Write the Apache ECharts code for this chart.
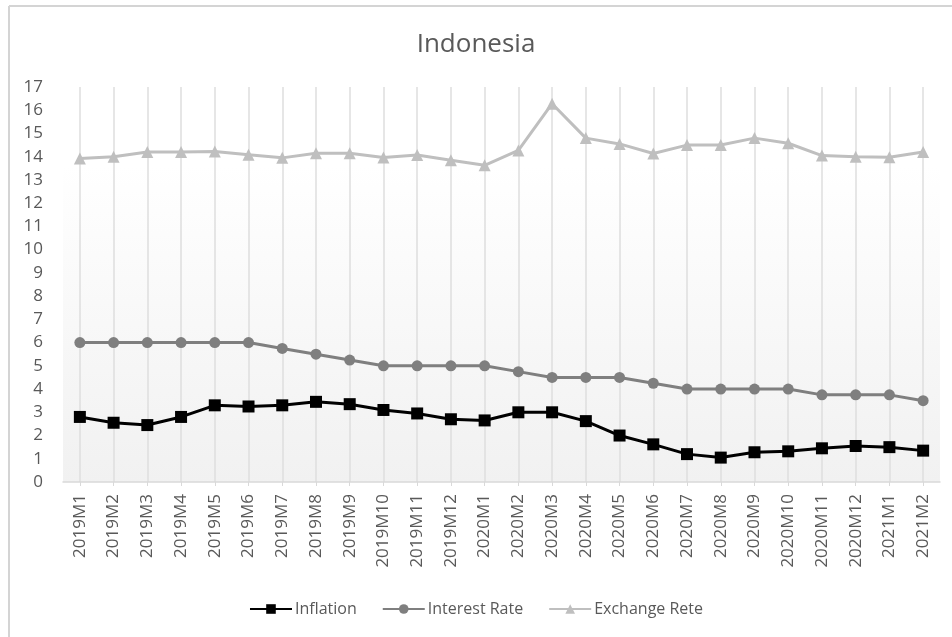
<!DOCTYPE html>
<html>
<head>
<meta charset="utf-8">
<title>Indonesia</title>
<script src="https://cdn.jsdelivr.net/npm/echarts@6/dist/echarts.min.js"></script>
<style>
  html, body { margin: 0; padding: 0; background: #ffffff; }
  #chart { width: 952px; height: 637px; }
</style>
</head>
<body>
<div id="chart"></div>
<script>
// Monthly observations, January 2019 to February 2021
const months = [
  '2019M1', '2019M2', '2019M3', '2019M4', '2019M5', '2019M6', '2019M7',
  '2019M8', '2019M9', '2019M10', '2019M11', '2019M12',
  '2020M1', '2020M2', '2020M3', '2020M4', '2020M5', '2020M6', '2020M7',
  '2020M8', '2020M9', '2020M10', '2020M11', '2020M12',
  '2021M1', '2021M2'
];

const inflation = [
  2.8, 2.55, 2.45, 2.8, 3.3, 3.25, 3.3, 3.45, 3.35, 3.1, 2.95, 2.7,
  2.65, 3.0, 3.0, 2.62, 2.0, 1.62, 1.2, 1.05, 1.28, 1.32, 1.45, 1.55,
  1.5, 1.35
];

const interestRate = [
  6.0, 6.0, 6.0, 6.0, 6.0, 6.0, 5.75, 5.5, 5.25, 5.0, 5.0, 5.0,
  5.0, 4.75, 4.5, 4.5, 4.5, 4.25, 4.0, 4.0, 4.0, 4.0, 3.75, 3.75,
  3.75, 3.5
];

const exchangeRate = [
  13.92, 14.0, 14.2, 14.2, 14.22, 14.08, 13.95, 14.15, 14.15, 13.97, 14.07, 13.85,
  13.63, 14.27, 16.28, 14.8, 14.55, 14.14, 14.5, 14.5, 14.8, 14.58, 14.05, 14.0,
  13.98, 14.2
];

const yTicks = { min: 0, max: 17, step: 1 };

const FONT = '"Open Sans", "Noto Sans", sans-serif';
const TEXT = '#595959';

const chart = echarts.init(document.getElementById('chart'), null, { renderer: 'canvas' });

function lineSeries(name, data, color, symbol, size) {
  return {
    name: name,
    type: 'line',
    data: data,
    symbol: symbol,
    symbolSize: size,
    showSymbol: true,
    lineStyle: { color: color, width: 3 },
    itemStyle: { color: color, borderWidth: 0 },
    emphasis: { disabled: true },
    animation: false
  };
}

chart.setOption({
  backgroundColor: '#ffffff',
  animation: false,
  title: {
    text: 'Indonesia',
    left: 'center',
    top: 27,
    textStyle: { fontFamily: FONT, fontSize: 26, fontWeight: 'normal', color: TEXT }
  },
  graphic: [
    // chart frame (top and left edges)
    { type: 'line', shape: { x1: 9, y1: 6, x2: 952, y2: 6 }, style: { stroke: '#d4d4d4', lineWidth: 2 }, silent: true },
    { type: 'line', shape: { x1: 9, y1: 6, x2: 9, y2: 637 }, style: { stroke: '#d4d4d4', lineWidth: 2 }, silent: true }
  ],
  legend: {
    bottom: 15,
    left: 'center',
    itemWidth: 42,
    itemHeight: 12,
    itemGap: 25,
    textStyle: { fontFamily: FONT, fontSize: 16, color: TEXT, padding: [0, 0, 0, -2] },
    data: ['Inflation', 'Interest Rate', 'Exchange Rete']
  },
  grid: {
    left: 63,
    right: 12,
    top: 87,
    bottom: 155,
    show: true,
    borderWidth: 0,
    backgroundColor: new echarts.graphic.LinearGradient(0, 0, 0, 1, [
      { offset: 0, color: '#ffffff' },
      { offset: 0.2, color: '#ffffff' },
      { offset: 1, color: '#f1f1f1' }
    ])
  },
  xAxis: {
    type: 'category',
    data: months,
    boundaryGap: true,
    axisLine: { show: true, lineStyle: { color: '#d9d9d9', width: 1.5 } },
    axisTick: { show: true, alignWithLabel: true, length: 4, lineStyle: { color: '#d9d9d9' } },
    splitLine: { show: true, alignWithLabel: true, lineStyle: { color: '#dedede', width: 1.5 } },
    axisLabel: {
      rotate: 90,
      interval: 0,
      margin: 12,
      fontFamily: FONT,
      fontSize: 17,
      color: TEXT
    }
  },
  yAxis: {
    type: 'value',
    min: yTicks.min,
    max: yTicks.max,
    interval: yTicks.step,
    axisLine: { show: false },
    axisTick: { show: false },
    splitLine: { show: false },
    axisLabel: { margin: 20, fontFamily: FONT, fontSize: 17, color: TEXT }
  },
  series: [
    lineSeries('Inflation', inflation, '#000000', 'rect', 12),
    lineSeries('Interest Rate', interestRate, '#7f7f7f', 'circle', 11),
    lineSeries('Exchange Rete', exchangeRate, '#bfbfbf', 'triangle', 12)
  ]
});
</script>
</body>
</html>
